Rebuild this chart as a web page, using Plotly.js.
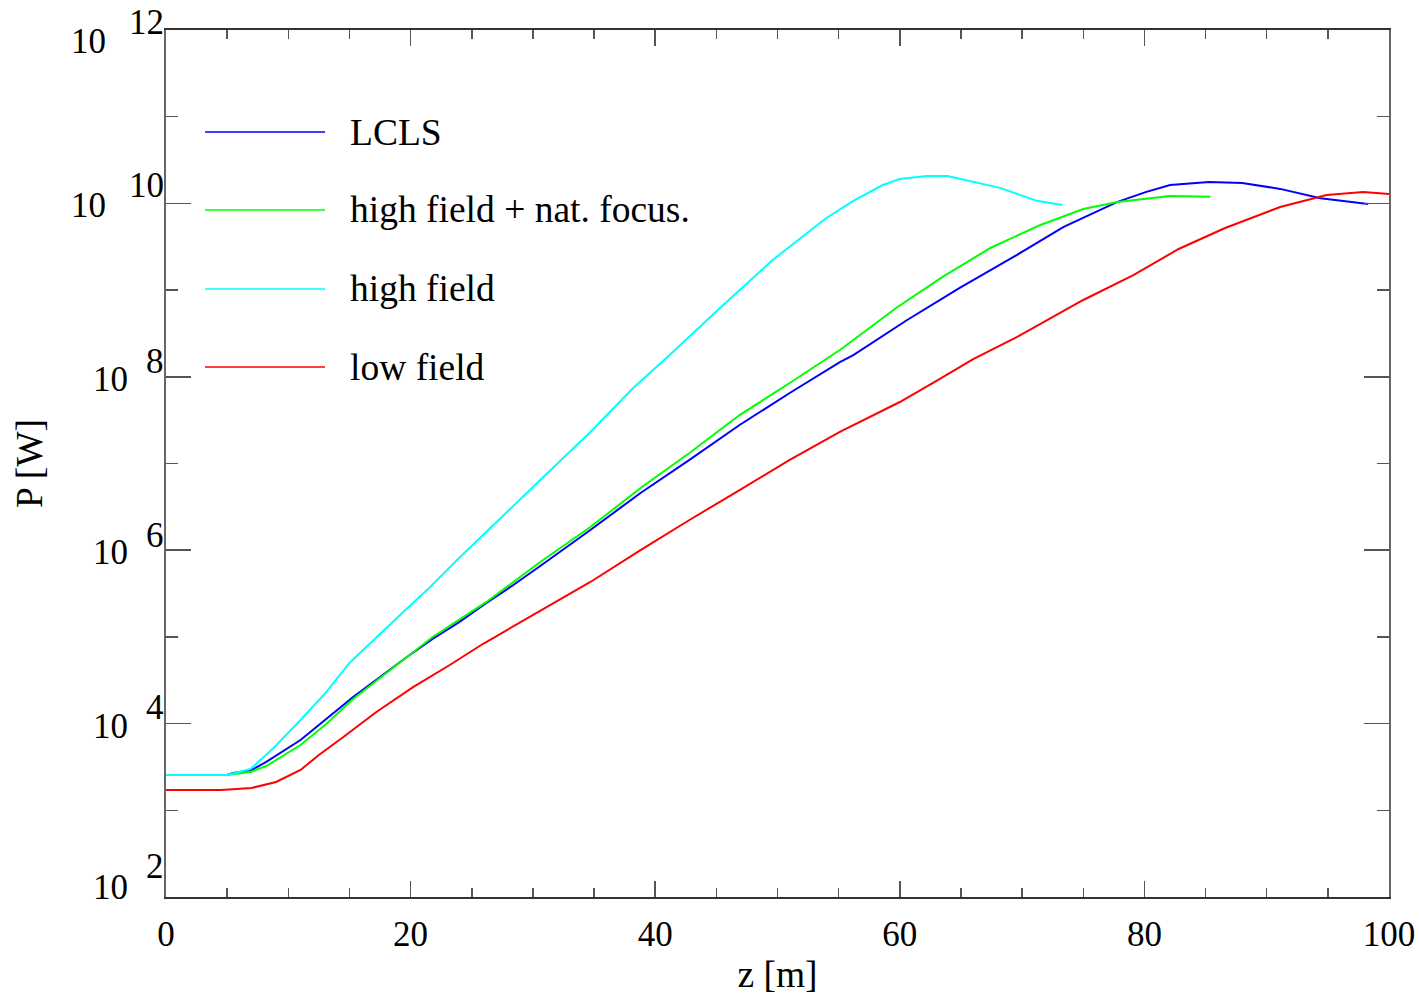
<!DOCTYPE html>
<html>
<head>
<meta charset="utf-8">
<script src="https://cdn.plot.ly/plotly-3.0.1.min.js"></script>
<style>html,body{margin:0;padding:0;background:#fff;}#chart{width:1419px;height:997px;}</style>
</head>
<body>
<div id="chart"></div>
<script>
// z [m] and P [W]
const lclsZ = [0, 5, 5.5, 7, 8.2, 11, 13.1, 15.3, 17.5, 19.7, 21.8, 24, 26.2, 28.4, 30.6, 34.7, 38.8, 42.8, 46.9, 51, 55.1, 56.2, 60.6, 64.9, 69.3, 73.4, 77.8, 80.1, 82.1, 85.3, 88, 91.1, 94.4, 98.3];
const lclsP = [2.55e3, 2.55e3, 2.69e3, 2.92e3, 3.61e3, 6.47e3, 1.13e4, 2.03e4, 3.45e4, 5.86e4, 9.46e4, 1.49e5, 2.46e5, 3.97e5, 6.58e5, 1.71e6, 4.57e6, 1.10e7, 2.78e7, 6.50e7, 1.48e8, 1.78e8, 4.52e8, 1.06e9, 2.41e9, 5.35e9, 1.04e10, 1.35e10, 1.63e10, 1.77e10, 1.72e10, 1.47e10, 1.15e10, 9.84e9];

const hfNatZ = [0, 5, 6.9, 8.2, 11, 13.1, 15.3, 17.5, 21.8, 26.2, 30.6, 34.7, 38.8, 42.8, 46.9, 51, 55.1, 57.3, 59.7, 63.5, 67.4, 71.5, 75, 77.8, 80, 82.1, 85.4];
const hfNatP = [2.55e3, 2.55e3, 2.77e3, 3.24e3, 5.66e3, 9.89e3, 1.92e4, 3.36e4, 9.98e4, 2.53e5, 7.31e5, 1.85e6, 5.21e6, 1.32e7, 3.62e7, 8.48e7, 2.04e8, 3.47e8, 6.22e8, 1.42e9, 3.06e9, 5.64e9, 8.61e9, 1.04e10, 1.12e10, 1.22e10, 1.19e10];

const hfZ = [0, 5, 6.9, 8.8, 11, 13.1, 15, 17.2, 19.4, 21.6, 23.8, 30.6, 34.7, 38.2, 41, 45.3, 47.5, 49.6, 51.8, 54, 56.2, 58.6, 60, 62.2, 63.9, 66, 68.2, 71.2, 73.3];
const hfP = [2.55e3, 2.55e3, 2.99e3, 5.23e3, 1.10e4, 2.31e4, 5.00e4, 9.98e4, 1.94e5, 3.76e5, 7.71e5, 6.45e6, 2.31e7, 7.43e7, 1.69e8, 6.22e8, 1.18e9, 2.22e9, 3.88e9, 6.79e9, 1.07e10, 1.63e10, 1.91e10, 2.07e10, 2.07e10, 1.77e10, 1.51e10, 1.07e10, 9.59e9];

const lfZ = [0, 4.5, 7, 9, 11, 12.5, 14.5, 17.2, 20.2, 23.2, 25.9, 28.9, 32.2, 34.7, 38.8, 42.8, 46.9, 51, 55.1, 60, 63, 66, 69.6, 75, 79.1, 82.8, 86.6, 91.1, 94.9, 97.9, 100];
const lfP = [1.71e3, 1.71e3, 1.81e3, 2.12e3, 2.92e3, 4.34e3, 7.00e3, 1.36e4, 2.64e4, 4.74e4, 8.28e4, 1.45e5, 2.67e5, 4.30e5, 1.00e6, 2.23e6, 4.94e6, 1.10e7, 2.31e7, 5.12e7, 8.95e7, 1.60e8, 2.88e8, 7.69e8, 1.49e9, 2.98e9, 5.20e9, 9.08e9, 1.25e10, 1.35e10, 1.28e10];

const seriesNames = ["LCLS", "high field + nat. focus.", "high field", "low field"];
const seriesColors = ["#0000ff", "#00ff00", "#00ffff", "#ff0000"];
const xTickVals = [0, 20, 40, 60, 80, 100];
const yExponents = [2, 4, 6, 8, 10, 12];

const FONT = "Liberation Serif, Times New Roman, serif";
const series = [[lclsZ, lclsP], [hfNatZ, hfNatP], [hfZ, hfP], [lfZ, lfP]];

const traces = series.map((s, i) => ({
  x: s[0], y: s[1], type: "scatter", mode: "lines",
  name: seriesNames[i], line: {color: seriesColors[i], width: 2},
  showlegend: false, cliponaxis: false
}));

const W = 1419, H = 997, L = 166, R = 30, T = 30, B = 100;
const plotH = H - T - B;
function py(pix) { return (H - B - pix) / plotH; }

const annotations = [];
const shapes = [];
// y tick labels: "10" with raised exponent
const labelPix = {12: [41, 22], 10: [206, 186], 8: [379, 361], 6: [552, 535], 4: [726, 707], 2: [887, 866]};
yExponents.forEach(e => {
  const two = String(e).length > 1;
  annotations.push({xref: "paper", yref: "paper", x: 0, y: py(labelPix[e][0]), xanchor: "right", yanchor: "middle",
    xshift: two ? -59 : -37, text: "10", showarrow: false, borderpad: 0, font: {family: FONT, size: 35, color: "#000"}});
  annotations.push({xref: "paper", yref: "paper", x: 0, y: py(labelPix[e][1]), xanchor: "right", yanchor: "middle",
    xshift: -1, text: String(e), showarrow: false, borderpad: 0, font: {family: FONT, size: 35, color: "#000"}});
});
// legend
const legPix = [132, 210, 289, 367];
seriesNames.forEach((n, i) => {
  shapes.push({type: "line", xref: "paper", yref: "paper", x0: (205 - L) / 1223, x1: (325 - L) / 1223,
    y0: py(legPix[i]), y1: py(legPix[i]), line: {color: seriesColors[i], width: 1.5}});
  annotations.push({xref: "paper", yref: "paper", x: (349 - L) / 1223, y: py(legPix[i]), xanchor: "left", yanchor: "middle",
    text: n, showarrow: false, borderpad: 0, font: {family: FONT, size: 37.5, color: "#000"}});
});

const layout = {
  width: W, height: H,
  margin: {l: L, r: R, t: T, b: B, pad: 0},
  paper_bgcolor: "#fff", plot_bgcolor: "#fff",
  showlegend: false,
  font: {family: FONT, size: 35, color: "#000"},
  xaxis: {
    range: [0, 100], tickvals: xTickVals, ticktext: xTickVals.map(String),
    ticks: "inside", ticklen: 16, tickwidth: 1.5, tickcolor: "#555",
    minor: {dtick: 5, ticks: "inside", ticklen: 9, tickwidth: 1.5, tickcolor: "#555"},
    showline: true, linecolor: "#333", linewidth: 2, mirror: "ticks",
    showgrid: false, zeroline: false, ticklabelstandoff: 5,
    tickfont: {family: FONT, size: 35, color: "#000"},
    title: {text: "z [m]", font: {family: FONT, size: 37.5, color: "#000"}, standoff: 8}
  },
  yaxis: {
    type: "log", range: [2, 12], dtick: 2,
    ticks: "inside", ticklen: 25, tickwidth: 1.5, tickcolor: "#555",
    minor: {dtick: 1, ticks: "inside", ticklen: 12, tickwidth: 1.5, tickcolor: "#555"},
    showticklabels: false,
    showline: true, linecolor: "#666", linewidth: 2, mirror: "ticks",
    showgrid: false, zeroline: false,
    title: {text: "P [W]", font: {family: FONT, size: 37.5, color: "#000"}, standoff: 110}
  },
  annotations: annotations,
  shapes: shapes
};

Plotly.newPlot("chart", traces, layout, {staticPlot: true, displayModeBar: false});
</script>
</body>
</html>
